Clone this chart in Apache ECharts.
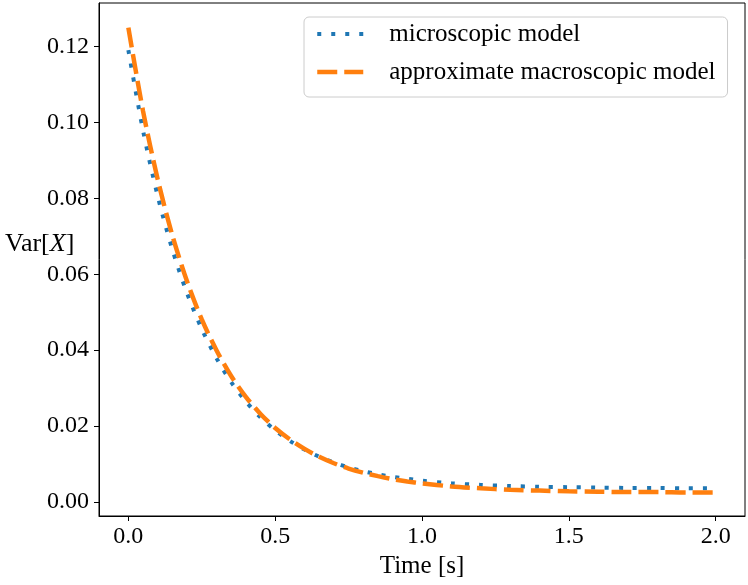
<!DOCTYPE html>
<html>
<head>
<meta charset="utf-8">
<script src="https://cdn.jsdelivr.net/npm/echarts@6/dist/echarts.min.js"></script>
<style>
html,body{margin:0;padding:0;background:#fff;}
#chart{width:748px;height:585px;}
</style>
</head>
<body>
<div id="chart"></div>
<script>
// Time points [s]
const timeValues = [0, 0.05, 0.10, 0.15, 0.20, 0.25, 0.30, 0.35, 0.40, 0.45, 0.50, 0.55, 0.60, 0.65, 0.70, 0.75, 0.80, 0.85, 0.90, 0.95, 1.00, 1.1, 1.2, 1.3, 1.4, 1.5, 1.6, 1.7, 1.8, 1.9, 2.0];
// Var[X], microscopic model
const microscopic = [0.1191, 0.0979, 0.0806, 0.0665, 0.0550, 0.0456, 0.0379, 0.0316, 0.0265, 0.0223, 0.0189, 0.0161, 0.0138, 0.0119, 0.0104, 0.0091, 0.0081, 0.0073, 0.0066, 0.0061, 0.0056, 0.0049, 0.0045, 0.0042, 0.0040, 0.0039, 0.0038, 0.0037, 0.0037, 0.0036, 0.0036];
// Var[X], approximate macroscopic model
const macroscopic = [0.1250, 0.1030, 0.0850, 0.0702, 0.0581, 0.0481, 0.0400, 0.0332, 0.0277, 0.0232, 0.0195, 0.0165, 0.0140, 0.0119, 0.0102, 0.0088, 0.0077, 0.0068, 0.0060, 0.0054, 0.0049, 0.0041, 0.0036, 0.0032, 0.0030, 0.0028, 0.0027, 0.0026, 0.0026, 0.0025, 0.0025];
// Tick labels
const xTicks = [0.0, 0.5, 1.0, 1.5, 2.0];
const yTicks = [0.00, 0.02, 0.04, 0.06, 0.08, 0.10, 0.12];
const seriesNames = ['microscopic model', 'approximate macroscopic model'];

const FONT = '"Liberation Serif", "DejaVu Serif", serif';
const pairs = (ys) => timeValues.map((t, i) => [t, ys[i]]);

const chart = echarts.init(document.getElementById('chart'));
chart.setOption({
  animation: false,
  backgroundColor: '#fff',
  textStyle: { fontFamily: FONT },
  grid: { left: 99, right: 3, top: 3, bottom: 69, show: true, borderColor: '#000', borderWidth: 1, backgroundColor: 'transparent' },
  legend: {
    orient: 'vertical',
    left: 304, top: 17,
    itemWidth: 46, itemHeight: 14, itemGap: 12,
    padding: [4, 12, 12, 11],
    backgroundColor: 'rgba(255,255,255,0.8)',
    borderColor: '#cccccc', borderWidth: 1, borderRadius: 5,
    itemStyle: { opacity: 0 },
    textStyle: { fontFamily: FONT, fontSize: 25, color: '#000', lineHeight: 26, padding: [0, 0, 0, 21] },
    data: [
      { name: seriesNames[0], lineStyle: { width: 4, type: [4, 10], color: '#1f77b4', cap: 'butt' } },
      { name: seriesNames[1], lineStyle: { width: 4.5, type: [20, 7], color: '#ff7f0e', cap: 'butt' } }
    ]
  },
  xAxis: {
    type: 'value', min: -0.1, max: 2.1,
    name: 'Time [s]', nameLocation: 'middle', nameGap: 36,
    nameTextStyle: { fontFamily: FONT, fontSize: 25, color: '#000' },
    axisLine: { show: true, onZero: false, lineStyle: { color: '#000', width: 1 } },
    axisTick: { show: true, inside: false, length: 5, lineStyle: { color: '#000' }, customValues: xTicks },
    axisLabel: { fontFamily: FONT, fontSize: 24, color: '#000', margin: 9, customValues: xTicks, formatter: v => v.toFixed(1) },
    splitLine: { show: false }
  },
  yAxis: {
    type: 'value', min: -0.0037, max: 0.1315,
    axisLine: { show: true, onZero: false, lineStyle: { color: '#000', width: 1 } },
    axisTick: { show: true, inside: false, length: 5, lineStyle: { color: '#000' }, customValues: yTicks },
    axisLabel: { fontFamily: FONT, fontSize: 24, color: '#000', margin: 10, customValues: yTicks, formatter: v => v.toFixed(2) },
    splitLine: { show: false }
  },
  graphic: [{
    type: 'text', left: 5, top: 231,
    style: {
      text: '{n|Var[}{i|X}{n|]}',
      rich: {
        n: { fontFamily: FONT, fontSize: 26, fill: '#000' },
        i: { fontFamily: FONT, fontSize: 26, fontStyle: 'italic', fill: '#000' }
      }
    }
  }],
  series: [
    {
      name: seriesNames[0], type: 'line', data: pairs(microscopic),
      symbol: 'none', smooth: 0.3, z: 2,
      lineStyle: { color: '#1f77b4', width: 4, type: [4, 10], cap: 'butt' },
      itemStyle: { color: '#1f77b4' }
    },
    {
      name: seriesNames[1], type: 'line', data: pairs(macroscopic),
      symbol: 'none', smooth: 0.3, z: 3,
      lineStyle: { color: '#ff7f0e', width: 4.5, type: [20, 7], cap: 'butt' },
      itemStyle: { color: '#ff7f0e' }
    }
  ]
});
</script>
</body>
</html>
